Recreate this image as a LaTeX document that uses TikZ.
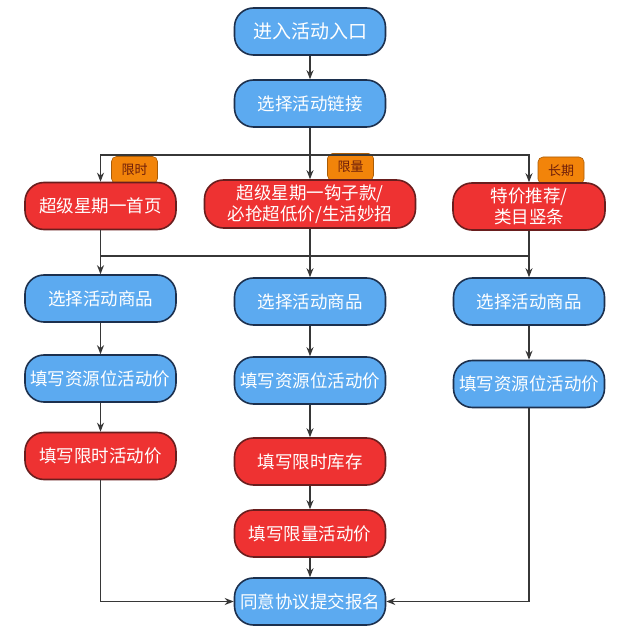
\documentclass[tikz,border=0pt]{standalone}
\usepackage{fontspec}
\newfontfamily\cjk{Noto Sans CJK SC}
\usetikzlibrary{arrows.meta,positioning}

\definecolor{actblue}{RGB}{92,170,240}
\definecolor{actedge}{RGB}{28,48,78}
\definecolor{limred}{RGB}{238,50,50}
\definecolor{limedge}{RGB}{105,30,30}
\definecolor{tagorange}{RGB}{242,132,10}
\definecolor{tagtext}{RGB}{110,30,10}
\definecolor{wire}{RGB}{55,55,55}

\begin{document}
\begin{tikzpicture}[
    x=1pt, y=-1pt,
    >={Stealth[length=9pt,width=7pt]},
    action/.style={
      draw=actedge,
      line width=1.6pt,
      rounded corners=19pt,
      fill=actblue,
      text=white,
      align=center,
      minimum width=151pt,
      minimum height=47pt,
      inner sep=2pt,
      font=\cjk\fontsize{17.5}{21}\selectfont
    },
    limit/.style={
      action,
      fill=limred,
      draw=limedge
    },
    tag/.style={
      draw=tagorange!70!black,
      line width=0.6pt,
      fill=tagorange,
      text=tagtext,
      rounded corners=5pt,
      minimum width=46pt,
      minimum height=27pt,
      inner sep=1pt,
      font=\cjk\fontsize{13}{15}\selectfont
    },
    link/.style={line width=1.5pt, draw=wire},
    flow/.style={link, ->}
  ]
    \useasboundingbox[fill=white] (0,0) rectangle (640,631);

    % entry and link
    \node[action, font=\cjk\fontsize{19}{23}\selectfont] (entry) at (310,31.5) {进入活动入口};
    \node[action] (chooselink) at (310,103.5) {选择活动链接};

    % activity tags
    \node[tag] (tagtime) at (134.5,170) {限时};
    \node[tag] (tagqty) at (350.5,167) {限量};
    \node[tag] (taglong) at (561,170.5) {长期};

    % activity types
    \node[limit] (homepage) at (100.5,206) {超级星期一首页};
    \node[limit, minimum width=211pt, minimum height=48pt] (hook) at (310,204) {超级星期一钩子款/\\必抢超低价/生活妙招};
    \node[limit, minimum width=152pt] (special) at (529,206.5) {特价推荐/\\类目竖条};

    % left column
    \node[action] (pickleft) at (100.5,298.5) {选择活动商品};
    \node[action] (fillleft) at (100.5,378.5) {填写资源位活动价};
    \node[limit] (timeprice) at (100.5,456) {填写限时活动价};

    % middle column
    \node[action] (pickmid) at (310,301.5) {选择活动商品};
    \node[action] (fillmid) at (310,380.5) {填写资源位活动价};
    \node[limit] (timestock) at (310,461.5) {填写限时库存};
    \node[limit] (qtyprice) at (310,533.5) {填写限量活动价};

    % right column
    \node[action] (pickright) at (529,301.5) {选择活动商品};
    \node[action] (fillright) at (529,384) {填写资源位活动价};

    \node[action] (submit) at (310,601.5) {同意协议提交报名};

    \coordinate (split) at (310,155);
    \coordinate (merge) at (310,256);

    \draw[flow] (entry) -- (chooselink);
    \draw[flow] (chooselink) -- (hook);
    \draw[flow] (split) -| (homepage);
    \draw[flow] (split) -| (special);

    \draw[link] (merge -| homepage) -- (merge -| special);
    \draw[flow] (homepage) -- (pickleft);
    \draw[flow] (hook) -- (pickmid);
    \draw[flow] (special) -- (pickright);

    \draw[flow] (pickleft) -- (fillleft);
    \draw[flow] (fillleft) -- (timeprice);
    \draw[flow] (pickmid) -- (fillmid);
    \draw[flow] (fillmid) -- (timestock);
    \draw[flow] (timestock) -- (qtyprice);
    \draw[flow] (qtyprice) -- (submit);
    \draw[flow] (pickright) -- (fillright);

    \draw[flow] (timeprice) |- (submit);
    \draw[flow] (fillright) |- (submit);
  \end{tikzpicture}
\end{document}
